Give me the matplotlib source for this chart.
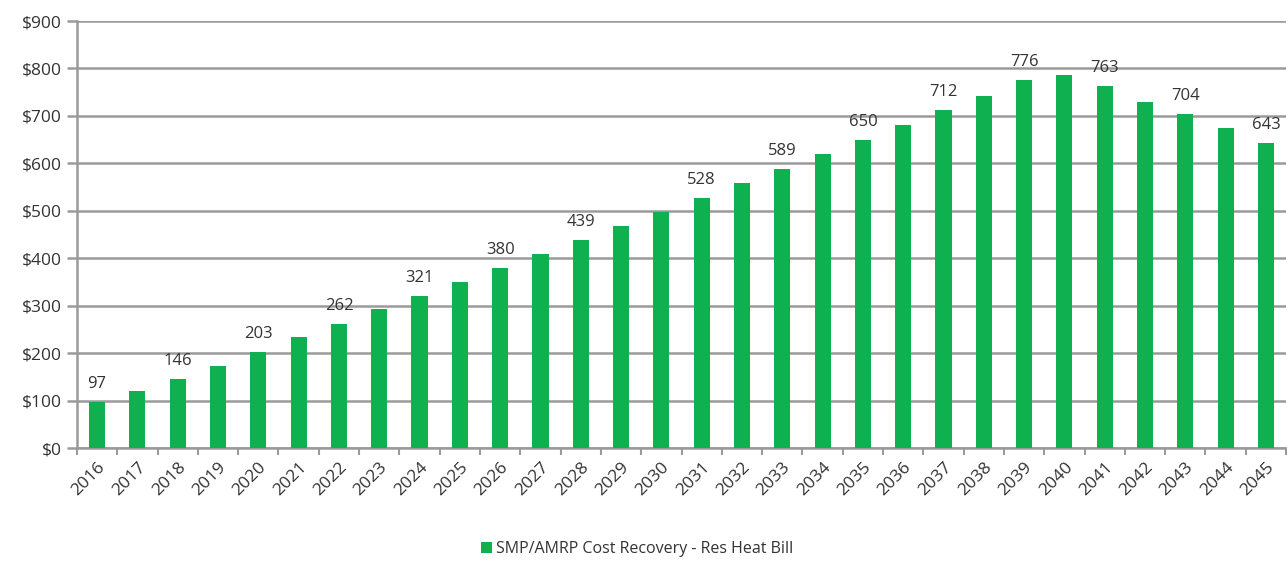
import matplotlib
matplotlib.use("Agg")
import matplotlib.pyplot as plt
from matplotlib.ticker import FuncFormatter, MultipleLocator

years = [str(y) for y in range(2016, 2046)]
values = [97, 120, 146, 173, 203, 233, 262, 292, 321, 350, 380, 409, 439, 468,
          498, 528, 558, 589, 619, 650, 681, 712, 743, 776, 786, 763, 730, 704,
          674, 643]
labeled_years = ["2016", "2018", "2020", "2022", "2024", "2026", "2028", "2031",
                 "2033", "2035", "2037", "2039", "2041", "2043", "2045"]
series_name = "SMP/AMRP Cost Recovery - Res Heat Bill"

plt.rcParams['font.family'] = ['Open Sans', 'DejaVu Sans']
green = '#0fb04f'
grid_c = '#9a9a9a'
text_c = '#333333'

fig = plt.figure(figsize=(12.87, 5.62), dpi=100)
ax = fig.add_axes([0.0598, 0.2028, 0.9395, 0.7598])

x = list(range(len(years)))
bars = ax.bar(x, values, width=0.4, color=green, zorder=3, label=series_name)

for xi, yr, v in zip(x, years, values):
    if yr in labeled_years:
        ax.annotate(str(v), (xi, v), xytext=(0, 7), textcoords='offset points',
                    ha='center', va='bottom', fontsize=12, color=text_c)

ax.set_xlim(-0.5, len(years) - 0.5)
ax.set_ylim(0, 900)
ax.yaxis.set_major_locator(MultipleLocator(100))
ax.yaxis.set_major_formatter(FuncFormatter(lambda v, p: f"${int(v)}"))
ax.grid(axis='y', color=grid_c, linewidth=1.8, zorder=0)
ax.set_axisbelow(True)

for s in ['top', 'right']:
    ax.spines[s].set_visible(False)
ax.spines['left'].set_color(grid_c)
ax.spines['left'].set_linewidth(1.8)
ax.spines['bottom'].set_color(grid_c)
ax.spines['bottom'].set_linewidth(1.8)

ax.set_xticks(x)
ax.set_xticklabels(years, rotation=45, ha='right', rotation_mode='anchor',
                   fontsize=12.5, color=text_c)
ax.tick_params(axis='x', length=0, pad=8)
ax.set_xticks([i - 0.5 for i in range(len(years) + 1)], minor=True)
ax.tick_params(axis='x', which='minor', length=5, color=grid_c, width=1.5)
ax.tick_params(axis='y', length=7, color=grid_c, width=1.8, labelsize=12.5,
               labelcolor=text_c, pad=4)

fig.legend(handles=[bars], labels=[series_name], loc='center',
           bbox_to_anchor=(0.495, 0.023), frameon=False, fontsize=11.5,
           handlelength=0.7, handleheight=0.7, handletextpad=0.2,
           labelcolor=text_c)

fig.savefig('out.png', dpi=100)
